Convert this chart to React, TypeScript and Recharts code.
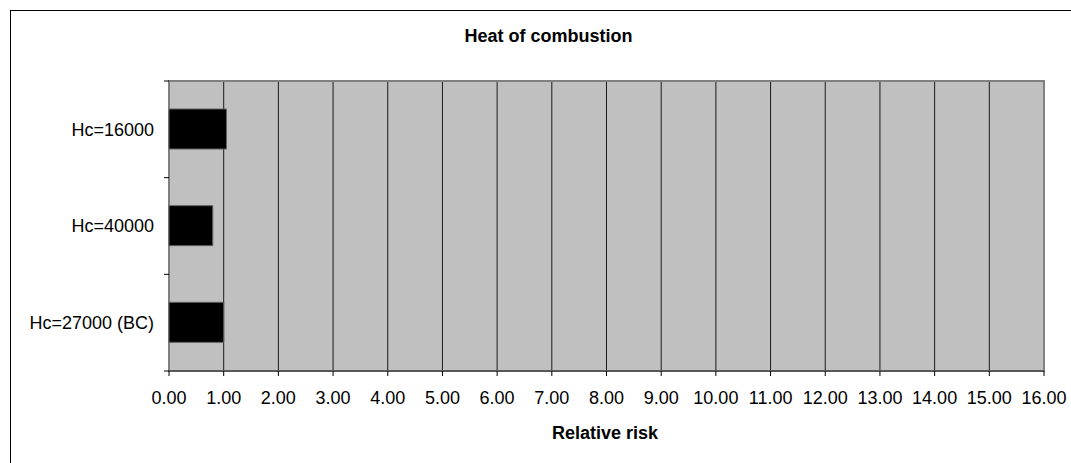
import React from 'react';
import { BarChart, Bar, XAxis, YAxis, CartesianGrid, ReferenceArea } from 'recharts';

const categories = ['Hc=16000', 'Hc=40000', 'Hc=27000 (BC)'];
const relativeRisk = [1.05, 0.8, 1.0];
const xTicks = [0, 1, 2, 3, 4, 5, 6, 7, 8, 9, 10, 11, 12, 13, 14, 15, 16];
const chartTitle = 'Heat of combustion';
const xAxisTitle = 'Relative risk';

const data = categories.map((c, i) => ({ name: c, value: relativeRisk[i] }));

const FONT = '"Liberation Sans", Arial, sans-serif';
const FS = 18;
const Y_TICK_SIZE = 5;
const Y_TICK_MARGIN = 10;

const YTick = (props: any) => {
  const { x, y, payload, index, visibleTicksCount } = props;
  const axisX = x + Y_TICK_SIZE + Y_TICK_MARGIN;
  const half = payload && typeof payload.offset === 'number' ? payload.offset : 48.33;
  return (
    <g>
      <line x1={axisX - Y_TICK_SIZE} x2={axisX} y1={y - half} y2={y - half} stroke="#000" />
      {index === visibleTicksCount - 1 && (
        <line x1={axisX - Y_TICK_SIZE} x2={axisX} y1={y + half} y2={y + half} stroke="#000" />
      )}
      <text x={x} y={y} dy="0.355em" textAnchor="end" fill="#000" fontSize={FS} fontFamily={FONT}>
        {payload.value}
      </text>
    </g>
  );
};

export default function App() {
  return (
    <div style={{ position: 'absolute', left: 0, top: 0, width: 1071, height: 463, overflow: 'hidden', background: '#fff' }}>
      <div
        style={{
          position: 'absolute',
          left: 10,
          top: 10,
          width: 1100,
          height: 500,
          border: '1px solid #000',
          boxSizing: 'border-box',
        }}
      >
        <BarChart
          width={1070}
          height={460}
          data={data}
          layout="vertical"
          margin={{ top: 70, right: 37, bottom: 70, left: 8 }}
          barSize={40}
        >
          <CartesianGrid horizontal={false} vertical stroke="#1a1a1a" strokeWidth={1} fill="#C0C0C0" fillOpacity={1} />
          <XAxis
            type="number"
            dataKey="value"
            domain={[0, 16]}
            ticks={xTicks}
            interval={0}
            tickFormatter={(v: number) => v.toFixed(2)}
            height={30}
            tickSize={5}
            tickMargin={15}
            axisLine={{ stroke: '#333' }}
            tickLine={{ stroke: '#000' }}
            tick={{ fill: '#000', fontSize: FS, fontFamily: FONT }}
          />
          <YAxis
            type="category"
            dataKey="name"
            width={150}
            tickSize={Y_TICK_SIZE}
            tickMargin={Y_TICK_MARGIN}
            axisLine={false}
            tickLine={false}
            interval={0}
            tick={<YTick />}
          />
          <ReferenceArea x1={0} x2={16} fill="none" stroke="#808080" strokeWidth={2} ifOverflow="visible" />
          <Bar dataKey="value" fill="#000" stroke="#606060" strokeWidth={1} isAnimationActive={false} />
        </BarChart>
      </div>
      <svg width={1071} height={463} style={{ position: 'absolute', left: 0, top: 0, pointerEvents: 'none' }}>
        <text x={548.5} y={42} textAnchor="middle" fontWeight="bold" fontSize={FS} fontFamily={FONT} fill="#000">
          {chartTitle}
        </text>
        <text x={605} y={439} textAnchor="middle" fontWeight="bold" fontSize={FS} fontFamily={FONT} fill="#000">
          {xAxisTitle}
        </text>
      </svg>
    </div>
  );
}
